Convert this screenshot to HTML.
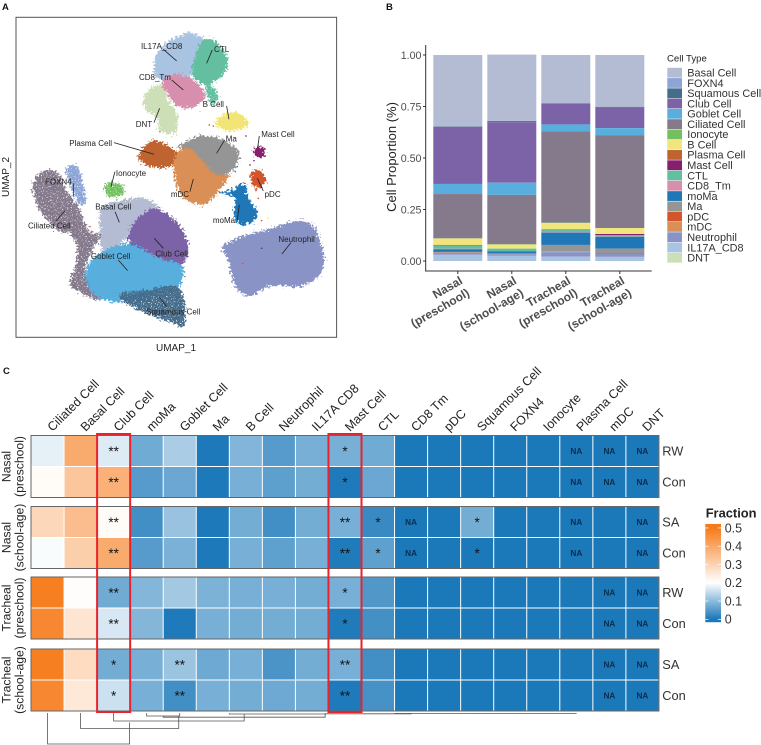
<!DOCTYPE html>
<html>
<head>
<meta charset="utf-8">
<title>Cell type composition figure</title>
<style>
html,body{margin:0;padding:0;background:#fff;}
svg{display:block;font-family:"Liberation Sans",sans-serif;}
</style>
</head>
<body>
<svg id="fig" xmlns="http://www.w3.org/2000/svg" width="761" height="745" viewBox="0 0 761 745">
  <defs>
    <filter id="rough" filterUnits="userSpaceOnUse" x="0" y="0" width="400" height="400" color-interpolation-filters="sRGB">
      <feTurbulence type="fractalNoise" baseFrequency="0.45" numOctaves="2" seed="4" result="n"/>
      <feDisplacementMap in="SourceGraphic" in2="n" scale="10" xChannelSelector="R" yChannelSelector="G"/>
    </filter>
    <filter id="speck" filterUnits="userSpaceOnUse" x="0" y="0" width="400" height="400" color-interpolation-filters="sRGB">
      <feTurbulence type="fractalNoise" baseFrequency="0.45" numOctaves="2" seed="4" result="n"/>
      <feDisplacementMap in="SourceGraphic" in2="n" scale="10" xChannelSelector="R" yChannelSelector="G" result="d"/>
      <feTurbulence type="fractalNoise" baseFrequency="0.8" numOctaves="1" seed="9" result="h"/>
      <feColorMatrix in="h" type="matrix" values="0 0 0 0 0  0 0 0 0 0  0 0 0 0 0  6 0 0 0 -1.5" result="m"/>
      <feComposite in="d" in2="m" operator="in"/>
    </filter>
    <linearGradient id="fraction-gradient" x1="0" y1="1" x2="0" y2="0"></linearGradient>
  </defs>
  <g id="panelA"></g>
  <g id="panelB"></g>
  <g id="panelC"></g>
</svg>
<script>
/* ---------- Panel A data (UMAP space) ---------- */
const umapClusterNames = ["Neutrophil","Ciliated Cell","FOXN4","Basal Cell","Club Cell","Goblet Cell","Squamous Cell","IL17A_CD8","CTL","CTL lower","CD8_Tm","DNT","B Cell","Plasma Cell","Ma","mDC","Ionocyte","Mast Cell","pDC","moMa"];
const umapClusterColors = ["#8a93c6","#85798c","#8da5d6","#b3bcd2","#7c62a6","#58afde","#456c8b","#a9c3e3","#63bfa0","#63bfa0","#d88fae","#cddfb6","#f2e576","#bf6430","#959595","#d98f55","#72c05f","#861f6e","#d2552b","#1f77b8"];
const umapClusterSpeck = [0,1,1,0,0,0,1,0,0,1,0,0,0,0,0,0,1,0,0,0];
const umapOutlines = [
 [[660,738],[700,715],[740,700],[800,685],[880,660],[930,672],[955,720],[967,775],[950,825],[900,855],[830,855],[790,860],[750,885],[710,870],[690,830],[680,780]],
 [[92,560],[105,525],[130,508],[165,515],[195,570],[230,620],[245,660],[262,690],[295,705],[275,740],[255,780],[248,810],[255,840],[300,875],[300,895],[265,890],[205,850],[222,790],[225,740],[205,700],[170,690],[130,650],[105,610]],
 [[190,505],[225,495],[245,560],[250,610],[225,600],[205,550]],
 [[295,700],[300,620],[370,597],[430,592],[470,625],[420,650],[385,700],[330,745],[300,745]],
 [[380,700],[420,640],[470,625],[530,670],[558,730],[540,790],[470,780],[400,750]],
 [[250,810],[275,770],[340,735],[390,730],[470,770],[540,795],[535,850],[500,880],[440,890],[360,905],[290,890],[258,855]],
 [[355,878],[430,868],[530,860],[550,970],[510,965],[440,940],[370,905]],
 [[455,195],[470,150],[510,115],[560,95],[600,110],[615,125],[590,170],[570,215],[555,235],[520,235],[490,240],[460,225]],
 [[600,120],[630,115],[665,150],[678,185],[660,225],[620,250],[585,240],[570,215],[580,170]],
 [[615,250],[640,265],[650,295],[630,310],[615,285]],
 [[480,245],[520,220],[570,235],[610,280],[590,310],[550,322],[520,310],[490,270]],
 [[425,290],[450,260],[480,255],[500,300],[525,340],[525,385],[500,398],[470,385],[465,350],[430,325]],
 [[640,365],[665,340],[690,332],[725,345],[740,370],[715,385],[680,390],[650,380]],
 [[410,465],[440,425],[470,420],[520,450],[525,475],[510,495],[470,500],[430,490]],
 [[550,425],[590,405],[650,410],[700,440],[712,470],[690,510],[640,530],[590,490],[560,450],[530,440]],
 [[515,490],[530,450],[570,445],[600,480],[640,520],[680,525],[650,570],[610,610],[560,600],[525,560]],
 [[305,555],[335,545],[365,560],[355,585],[320,585]],
 [[755,445],[775,435],[790,450],[780,470],[760,465]],
 [[745,525],[770,505],[792,530],[785,555],[760,560]],
 [[655,575],[700,565],[710,550],[735,555],[735,585],[765,630],[755,660],[715,670],[695,640],[700,590]]
];
const umapStrayPoints = [
 [628,375,"#bf6430"],[640,378,"#bf6430"],[738,408,"#861f6e"],[750,495,"#861f6e"],[762,482,"#861f6e"],[735,550,"#d2552b"],[775,595,"#d2552b"],[768,572,"#d2552b"],
 [712,500,"#1f77b8"],[706,515,"#1f77b8"],[660,578,"#1f77b8"],[770,650,"#1f77b8"],[785,662,"#d2552b"],[805,655,"#f2e576"],[728,790,"#d2552b"],[785,745,"#861f6e"],
 [375,575,"#72c05f"],[372,600,"#72c05f"],[350,600,"#72c05f"],[480,395,"#bf6430"],[515,410,"#cddfb6"],[530,405,"#cddfb6"],[545,430,"#72c05f"],[600,335,"#cddfb6"],
 [270,680,"#d2552b"],[555,830,"#85798c"],[300,705,"#85798c"],[515,918,"#72c05f"],[900,700,"#72c05f"],[825,748,"#72c05f"]
];
const umapLabelNames = ["IL17A_CD8","CTL","CD8_Tm","DNT","B Cell","Plasma Cell","Ma","Mast Cell","Ionocyte","FOXN4","mDC","pDC","moMa","Basal Cell","Ciliated Cell","Neutrophil","Club Cell","Goblet Cell","Squamous Cell"];
const umapLabelAnchors = [[485,138],[665,148],[465,232],[432,372],[640,313],[272,430],[694,416],[834,403],[393,520],[175,545],[540,583],[818,582],[672,661],[340,620],[148,677],[890,718],[515,761],[332,768],[520,935]];
const umapLeaderLines = [[490,148,530,183],[637,150,620,190],[515,240,550,270],[462,368,479,325],[680,318,687,358],[342,428,462,463],[674,420,650,460],[778,408,773,445],[345,515,333,560],[220,550,220,590],[570,575,580,537],[790,573,772,535],[712,660,718,615],[345,635,358,667],[168,663,195,632],[873,728,846,762],[490,745,463,715],[355,780,383,812],[500,920,478,892]];

/* ---------- Panel B data ---------- */
const cellTypes = ["Basal Cell","FOXN4","Squamous Cell","Club Cell","Goblet Cell","Ciliated Cell","Ionocyte","B Cell","Plasma Cell","Mast Cell","CTL","CD8_Tm","moMa","Ma","pDC","mDC","Neutrophil","IL17A_CD8","DNT"];
const cellTypeColors = ["#b3bcd2","#8da5d6","#456c8b","#7c62a6","#58afde","#85798c","#72c05f","#f2e57e","#bf6430","#861f6e","#63bfa0","#d88fae","#1f77b8","#959595","#d2552b","#d98f55","#8a93c6","#a9c3e3","#cddfb6"];
const barGroupsLine1 = ["Nasal","Nasal","Tracheal","Tracheal"];
const barGroupsLine2 = ["(preschool)","(school-age)","(preschool)","(school-age)"];
const nasalPreschool  = [.347,.001,.001,.277,.049,.215,.001,.031,.001,.001,.017,.002,.013,.002,.001,.001,.010,.030,0];
const nasalSchoolAge  = [.322,.001,.005,.294,.059,.240,.001,.020,.000,.000,.012,.001,.010,.003,.000,.001,.008,.025,0];
const trachealPreschool = [.235,.000,.000,.102,.034,.443,.002,.030,.000,.002,.012,.002,.060,.031,.002,.002,.022,.021,0];
const trachealSchoolAge = [.252,.000,.001,.102,.034,.451,.000,.029,.000,.006,.006,.002,.057,.021,.004,.000,.015,.020,0];
const barSeries = [nasalPreschool,nasalSchoolAge,trachealPreschool,trachealSchoolAge];
const yTickValues = [0,0.25,0.5,0.75,1];
const yTickLabels = ["0.00","0.25","0.50","0.75","1.00"];

/* ---------- Panel C data ---------- */
const heatColumns = ["Ciliated Cell","Basal Cell","Club Cell","moMa","Goblet Cell","Ma","B Cell","Neutrophil","IL17A CD8","Mast Cell","CTL","CD8 Tm","pDC","Squamous Cell","FOXN4","Ionocyte","Plasma Cell","mDC","DNT"];
const heatRowLabels = ["RW","Con","SA","Con","RW","Con","SA","Con"];
const heatGroupsLine1 = ["Nasal","Nasal","Tracheal","Tracheal"];
const heatGroupsLine2 = ["(preschool)","(school-age)","(preschool)","(school-age)"];
const heatFractions = [
 [.178,.39,.17,.075,.125,.002,.09,.052,.082,.082,.075,0,0,0,0,0,0,0,0],
 [.21,.33,.38,.052,.07,.002,.082,.058,.078,.003,.07,0,0,0,0,0,0,0,0],
 [.29,.35,.21,.034,.11,.002,.078,.034,.078,.082,.026,0,0,.078,0,0,0,0,0],
 [.195,.31,.39,.052,.085,.002,.082,.06,.082,.004,.06,0,0,0,0,0,0,0,0],
 [.49,.205,.075,.092,.118,.086,.082,.082,.078,.082,.047,0,0,0,0,0,0,0,0],
 [.47,.26,.165,.092,.003,.082,.078,.078,.078,.004,.035,0,0,0,0,0,0,0,0],
 [.49,.28,.078,.082,.112,.072,.082,.042,.078,.082,.034,0,0,0,0,0,0,0,0],
 [.47,.25,.155,.082,.034,.082,.078,.072,.078,.003,.038,0,0,0,0,0,0,0,0]
];
const heatMarks = [
 ["","","**","","","","","","","*","","","","","","","NA","NA","NA"],
 ["","","**","","","","","","","*","","","","","","","NA","NA","NA"],
 ["","","**","","","","","","","**","*","NA","","*","","","NA","","NA"],
 ["","","**","","","","","","","**","*","NA","","*","","","NA","","NA"],
 ["","","**","","","","","","","*","","","","","","","","NA","NA"],
 ["","","**","","","","","","","*","","","","","","","","NA","NA"],
 ["","","*","","**","","","","","**","","","","","","","","NA","NA"],
 ["","","*","","**","","","","","**","","","","","","","","NA","NA"]
];
const highlightedColumns = ["Club Cell","Mast Cell"];
const fractionStops = [0,0.2,0.5];
const fractionStopColors = [[27,120,185],[255,255,255],[246,123,26]];
const fractionTicks = [0,0.1,0.2,0.3,0.4,0.5];
/* dendrogram merges: left column, right column, left height, right height, merge height */
const dendroMerges = [
 [0,2.48,0,9.5,31],
 [1,3.97,0,2.6,15.5],
 [2,5.95,0,1.3,8],
 [3,4,0,0,3],
 [3.5,8.4,3,.8,4.2],
 [5.5,8.4,.3,.4,1],
 [8.4,11,.4,.3,.8],
 [10.5,13,.2,.2,.5],
 [13,16,.2,.1,.4]
];

const NS = "http://www.w3.org/2000/svg";
function mk(tag, attrs, parent, txt){
  const el = document.createElementNS(NS, tag);
  for (const k in attrs) el.setAttribute(k, attrs[k]);
  if (txt !== undefined) el.textContent = txt;
  parent.appendChild(el);
  return el;
}
const svg = document.getElementById("fig");
const panelA = document.getElementById("panelA");
const panelB = document.getElementById("panelB");
const panelC = document.getElementById("panelC");

/* panel letters */
[["A",2,10,panelA],["B",386,10,panelB],["C",3,374,panelC]].forEach(function(p){
  const el = mk("text",{x:p[1],y:p[2],"font-size":9.5,"font-weight":"bold",fill:"#111"},p[3],p[0]);
  
  
});

/* ---------- Panel A ---------- */
const ux = function(v){ return 16 + (v-48)*(320.6/962); };
const uy = function(v){ return 17.3 + (v-52)*(320/960); };
/* compensates the mean shift of the edge-roughening filter */
const filterShiftX = 2, filterShiftY = 1;
function smoothPath(pts){
  const P = pts.map(function(p){ return [ux(p[0])+filterShiftX,uy(p[1])+filterShiftY]; });
  const n = P.length;
  let d = "M"+P[0][0].toFixed(1)+" "+P[0][1].toFixed(1);
  for (let i=0;i<n;i++){
    const p0=P[(i-1+n)%n], p1=P[i], p2=P[(i+1)%n], p3=P[(i+2)%n];
    const c1=[p1[0]+(p2[0]-p0[0])/6,p1[1]+(p2[1]-p0[1])/6];
    const c2=[p2[0]-(p3[0]-p1[0])/6,p2[1]-(p3[1]-p1[1])/6];
    d += " C"+c1[0].toFixed(1)+" "+c1[1].toFixed(1)+" "+c2[0].toFixed(1)+" "+c2[1].toFixed(1)+" "+p2[0].toFixed(1)+" "+p2[1].toFixed(1);
  }
  return d+"Z";
}
umapOutlines.forEach(function(o,i){
  const el = mk("path",{d:smoothPath(o),fill:umapClusterColors[i],filter:umapClusterSpeck[i]?"url(#speck)":"url(#rough)"},panelA);
  
  
});
umapStrayPoints.forEach(function(p){
  const el = mk("circle",{cx:ux(p[0]),cy:uy(p[1]),r:.8,fill:p[2]},panelA);
  
  
});
umapLeaderLines.forEach(function(l){
  const el = mk("line",{x1:ux(l[0]),y1:uy(l[1]),x2:ux(l[2]),y2:uy(l[3]),stroke:"#222","stroke-width":.8},panelA);
  
  
});
umapLabelNames.forEach(function(t,i){
  const el = mk("text",{x:ux(umapLabelAnchors[i][0]),y:uy(umapLabelAnchors[i][1])+2.8,"font-size":8,"text-anchor":"middle",fill:"#222"},panelA,t);
  
  
});
const umapFrame = mk("rect",{x:16,y:17.3,width:320.6,height:320,fill:"none",stroke:"#555","stroke-width":1},panelA);


const umapXTitle = mk("text",{x:176,y:351,"font-size":10,"text-anchor":"middle",fill:"#222"},panelA,"UMAP_1");


const umapYTitle = mk("text",{transform:"translate(9,177) rotate(-90)","font-size":10,"text-anchor":"middle",fill:"#222"},panelA,"UMAP_2");



/* ---------- Panel B ---------- */
const by = function(v){ return 261 - v*206; };
const bandLeft = 433.3, bandStep = 54, bandWidth = 49;
const bx = function(i){ return bandLeft + i*bandStep; };
barSeries.forEach(function(vals,g){
  let top = vals.reduce(function(a,b){ return a+b; },0);
  vals.forEach(function(v,k){
    if (v > 0){
      const el = mk("rect",{x:bx(g),y:by(top),width:bandWidth,height:Math.max(by(top-v)-by(top),.3),fill:cellTypeColors[k]},panelB);
      
      
    }
    top -= v;
  });
});
const yAxisLine = mk("line",{x1:425.7,y1:45,x2:425.7,y2:271.5,stroke:"#333","stroke-width":1},panelB);


const xAxisLine = mk("line",{x1:425.2,y1:271,x2:651.7,y2:271,stroke:"#333","stroke-width":1},panelB);


yTickValues.forEach(function(v,i){
  const t = mk("line",{x1:423,y1:by(v),x2:425.7,y2:by(v),stroke:"#333","stroke-width":1},panelB);
  
  
  const l = mk("text",{x:421.5,y:by(v)+3.8,"font-size":10.7,"text-anchor":"end",fill:"#4d4d4d"},panelB,yTickLabels[i]);
  
  
});
const barYTitle = mk("text",{transform:"translate(396,157) rotate(-90)","font-size":13,"text-anchor":"middle",fill:"#222"},panelB,"Cell Proportion (%)");


barGroupsLine1.forEach(function(t,i){
  const cx = bx(i)+bandWidth/2;
  const tk = mk("line",{x1:cx,y1:271,x2:cx,y2:274,stroke:"#333","stroke-width":1},panelB);
  
  
  const g = mk("g",{transform:"translate("+(cx+5.6)+",283) rotate(-30)","font-size":12,"font-weight":"bold","text-anchor":"end",fill:"#4d4d4d"},panelB);
  
  
  mk("text",{x:0,y:0},g,t);
  mk("text",{x:0,y:14},g,barGroupsLine2[i]);
});
const legendTitle = mk("text",{x:667,y:61.5,"font-size":9.6,fill:"#222"},panelB,"Cell Type");


cellTypes.forEach(function(t,i){
  const y = 72.7 + i*10.28;
  const k = mk("rect",{x:667.3,y:y-4.9,width:14.7,height:9.8,fill:cellTypeColors[i]},panelB);
  
  
  const l = mk("text",{x:687.3,y:y+3.8,"font-size":10.9,fill:"#333"},panelB,t);
  
  
});

/* ---------- Panel C ---------- */
const heatLeft = 31, colW = 33.05, rowH = 31;
const groupTops = [435.5,506.5,577,649];
const hx = function(c){ return heatLeft + c*colW; };
const hy = function(r){ return groupTops[Math.floor(r/2)] + (r%2)*rowH; };
function fractionColor(v){
  let i = v <= fractionStops[1] ? 0 : 1;
  const t = Math.max(0,Math.min(1,(v-fractionStops[i])/(fractionStops[i+1]-fractionStops[i])));
  const a = fractionStopColors[i], b = fractionStopColors[i+1];
  return "rgb("+[0,1,2].map(function(j){ return Math.round(a[j]+(b[j]-a[j])*t); }).join(",")+")";
}
heatFractions.forEach(function(row,r){
  row.forEach(function(v,c){
    const el = mk("rect",{x:hx(c)+.5,y:hy(r)+.5,width:colW-1,height:rowH-1,fill:fractionColor(v)},panelC);
    
    
    const m = heatMarks[r][c];
    if (m === "NA"){
      const n = mk("text",{x:hx(c)+colW/2,y:hy(r)+rowH/2+2.8,"font-size":8.2,"font-weight":"bold","text-anchor":"middle",fill:"#0c2c4c"},panelC,"NA");
      
      
    } else if (m){
      const s = mk("text",{x:hx(c)+colW/2,y:hy(r)+rowH/2+4.8,"font-size":13.5,"text-anchor":"middle",fill:"#141414"},panelC,m);
      
      
    }
  });
  const rl = mk("text",{x:662.3,y:hy(r)+rowH/2+4.6,"font-size":12.8,fill:"#333"},panelC,heatRowLabels[r]);
  
  
});
groupTops.forEach(function(top,g){
  const f = mk("rect",{x:heatLeft,y:top,width:colW*19,height:rowH*2,fill:"none",stroke:"#666","stroke-width":1},panelC);
  
  
  const gl = mk("g",{transform:"translate(0,"+(top+rowH)+") rotate(-90)","font-size":12.2,"text-anchor":"middle",fill:"#222"},panelC);
  
  
  mk("text",{x:0,y:10.5},gl,heatGroupsLine1[g]);
  mk("text",{x:0,y:23.5},gl,heatGroupsLine2[g]);
});
heatColumns.forEach(function(t,c){
  const el = mk("text",{transform:"translate("+(hx(c)+colW/2+5)+",432) rotate(-45)","font-size":12.5,fill:"#222"},panelC,t);
  
  
});
highlightedColumns.forEach(function(name){
  const c = heatColumns.indexOf(name);
  const el = mk("rect",{x:hx(c),y:434,width:colW,height:278,fill:"none",stroke:"#e8232e","stroke-width":2},panelC);
  
  
});
/* dendrogram */
const dx = function(i){ return hx(i)+colW/2; };
const dy = function(h){ return 713 + h; };
dendroMerges.forEach(function(m){
  const d = "M"+dx(m[0])+" "+dy(m[2])+"V"+dy(m[4])+"H"+dx(m[1])+"V"+dy(m[3]);
  const el = mk("path",{d:d,fill:"none",stroke:"#555","stroke-width":.8},panelC);
  
  
});
/* fraction legend */
const fy = function(v){ return 619.3 - v*182.7; };
const grad = document.getElementById("fraction-gradient");
const fMin = -0.016, fMax = 0.522;
fractionStops.forEach(function(s,i){
  mk("stop",{offset:Math.max(0,(s-fMin)/(fMax-fMin)),"stop-color":"rgb("+fractionStopColors[i].join(",")+")"},grad);
});
const fBar = mk("rect",{x:705.3,y:fy(fMax),width:15.7,height:fy(fMin)-fy(fMax),fill:"url(#fraction-gradient)"},panelC);


const fTitle = mk("text",{x:705.7,y:517.7,"font-size":12.9,"font-weight":"bold",fill:"#222"},panelC,"Fraction");


fractionTicks.forEach(function(v){
  [705.3,717.8].forEach(function(x){
    const t = mk("line",{x1:x,x2:x+3.2,y1:fy(v),y2:fy(v),stroke:"#fff","stroke-width":.7},panelC);
    
    
  });
  const l = mk("text",{x:724.7,y:fy(v)+4.4,"font-size":12.5,fill:"#333"},panelC,String(v));
  
  
});
</script>
</body>
</html>
